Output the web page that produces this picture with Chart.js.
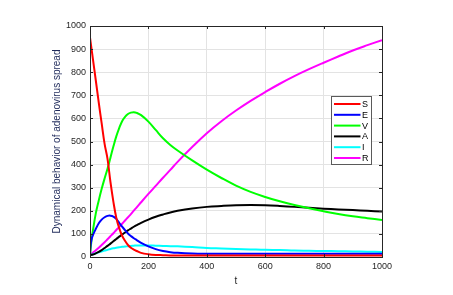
<!DOCTYPE html>
<html>
<head>
<meta charset="utf-8">
<script src="https://cdn.jsdelivr.net/npm/chart.js@4/dist/chart.umd.min.js"></script>
<style>
  body { margin: 0; background: #fff; }
  #wrap { width: 453px; height: 295px; }
</style>
</head>
<body>
<div id="wrap"><canvas id="chart" width="453" height="295"></canvas></div>
<script>
// time grid shared by all series
const tValues = [0, 2, 5, 10, 20, 30, 40, 50, 60, 70, 80, 90, 100, 110, 120, 130, 140, 150, 160, 175,
  200, 225, 250, 275, 300, 350, 400, 450, 500, 550, 600, 650, 700, 750, 800, 850, 900, 950, 1000];

const seriesS = [950, 931, 903, 857, 763, 668, 578, 490, 425, 325, 240, 170, 125, 92, 70, 52, 40, 32, 26, 18,
  12, 9, 8, 7, 7, 7, 7, 7, 7, 7, 7, 7, 7, 7, 7, 7, 7, 7, 7];
const seriesE = [10, 50, 75, 95, 122, 146, 162, 172, 178, 179, 175, 165, 148, 131, 116, 102, 91, 81, 73, 61,
  46, 34, 26, 21, 18, 15, 14, 14, 14, 14, 14, 14, 14, 14, 14, 14, 14, 14, 14];
const seriesV = [10, 35, 70, 115, 190, 245, 295, 340, 382, 430, 478, 522, 558, 588, 607, 619, 625, 627, 624, 614,
  586, 550, 514, 485, 461, 418, 378, 342, 309, 282, 260, 241, 225, 211, 198, 186, 176, 168, 160];
const seriesA = [8, 8.5, 9.5, 11, 16, 22, 30, 39, 48, 58, 68, 78, 88, 97, 106, 115, 123, 131, 138, 148,
  162, 174, 184, 193, 200, 210, 217, 221, 224, 225, 224, 221, 217, 213, 209, 206, 203, 200, 197];
const seriesI = [8, 9, 10, 12, 16, 20, 24, 28, 31, 35, 38, 40, 42, 44, 45, 47, 48, 49, 50, 50,
  50, 49, 48, 47, 46, 43, 39, 37, 35, 33, 31, 30, 28, 27, 26, 25, 24, 23, 22];
const seriesR = [10, 12, 14, 19, 29, 40, 52, 64, 77, 90, 103, 117, 130, 144, 158, 172, 186, 201, 215, 237,
  273, 308, 343, 377, 412, 476, 536, 588, 634, 676, 714, 750, 783, 813, 841, 868, 894, 917, 939];

const seriesNames = ['S', 'E', 'V', 'A', 'I', 'R'];
const seriesColors = ['#ff0000', '#0000ff', '#00ff00', '#000000', '#00ffff', '#ff00ff'];
const xTicks = [0, 200, 400, 600, 800, 1000];
const yTicks = [0, 100, 200, 300, 400, 500, 600, 700, 800, 900, 1000];

const allSeries = [seriesS, seriesE, seriesV, seriesA, seriesI, seriesR];
const FONT = 'Liberation Sans, Arial, sans-serif';
const AXIS_COLOR = '#262626';

// box frame with inward ticks, MATLAB style
const framePlugin = {
  id: 'frame',
  afterDraw(chart) {
    const { ctx, chartArea: a, scales } = chart;
    ctx.save();
    ctx.strokeStyle = AXIS_COLOR;
    ctx.lineWidth = 1;
    ctx.strokeRect(a.left + 0.5, a.top + 0.5, a.right - a.left, a.bottom - a.top);
    ctx.beginPath();
    xTicks.forEach(v => {
      const x = Math.round(scales.x.getPixelForValue(v)) + 0.5;
      ctx.moveTo(x, a.bottom); ctx.lineTo(x, a.bottom - 3);
      ctx.moveTo(x, a.top); ctx.lineTo(x, a.top + 3);
    });
    yTicks.forEach(v => {
      const y = Math.round(scales.y.getPixelForValue(v)) + 0.5;
      ctx.moveTo(a.left, y); ctx.lineTo(a.left + 3, y);
      ctx.moveTo(a.right, y); ctx.lineTo(a.right - 3, y);
    });
    ctx.stroke();
    ctx.restore();
  }
};

// legend box inside the plot
const boxLegendPlugin = {
  id: 'boxLegend',
  afterDraw(chart) {
    const { ctx } = chart;
    const bx = 331.5, by = 96.5, bw = 40, bh = 68;
    ctx.save();
    ctx.fillStyle = '#ffffff';
    ctx.fillRect(bx, by, bw, bh);
    ctx.strokeStyle = '#5a5a5a';
    ctx.lineWidth = 1;
    ctx.strokeRect(bx, by, bw, bh);
    ctx.font = '9px ' + FONT;
    ctx.textBaseline = 'middle';
    chart.data.datasets.forEach((ds, i) => {
      const y = by + 7.5 + i * 10.8;
      ctx.strokeStyle = ds.borderColor;
      ctx.lineWidth = 2;
      ctx.beginPath();
      ctx.moveTo(bx + 2.5, y);
      ctx.lineTo(bx + 29, y);
      ctx.stroke();
      ctx.fillStyle = '#000';
      ctx.fillText(ds.label, bx + 30.5, y + 0.5);
    });
    ctx.restore();
  }
};

new Chart(document.getElementById('chart'), {
  type: 'line',
  data: {
    datasets: allSeries.map((vals, i) => ({
      label: seriesNames[i],
      data: tValues.map((t, k) => ({ x: t, y: vals[k] })),
      borderColor: seriesColors[i],
      borderWidth: 2,
      pointRadius: 0,
      fill: false,
      tension: 0.4
    }))
  },
  options: {
    responsive: false,
    animation: false,
    layout: { padding: { top: 26, right: 71, left: 0, bottom: 0 } },
    plugins: { legend: { display: false }, tooltip: { enabled: false } },
    scales: {
      x: {
        type: 'linear',
        min: 0,
        max: 1000,
        afterBuildTicks: s => { s.ticks = xTicks.map(v => ({ value: v })); },
        afterFit: s => { s.height = 38; },
        ticks: { color: AXIS_COLOR, font: { family: FONT, size: 9 }, padding: 4, maxRotation: 0, callback: v => String(v) },
        grid: { color: '#e3e3e3', drawTicks: false },
        border: { display: false },
        title: { display: true, text: 't', color: AXIS_COLOR, font: { family: FONT, size: 10 }, padding: { top: 0, bottom: 8 } }
      },
      y: {
        min: 0,
        max: 1000,
        afterBuildTicks: s => { s.ticks = yTicks.map(v => ({ value: v })); },
        afterFit: s => { s.width = 90; },
        ticks: { color: AXIS_COLOR, font: { family: FONT, size: 9 }, padding: 4, callback: v => String(v) },
        grid: { color: '#e3e3e3', drawTicks: false },
        border: { display: false },
        title: { display: true, text: 'Dynamical behavior of adenovirus spread', color: '#1f2a5a', font: { family: FONT, size: 10 }, padding: { top: 51, bottom: 0 } }
      }
    }
  },
  plugins: [framePlugin, boxLegendPlugin]
});
</script>
</body>
</html>
